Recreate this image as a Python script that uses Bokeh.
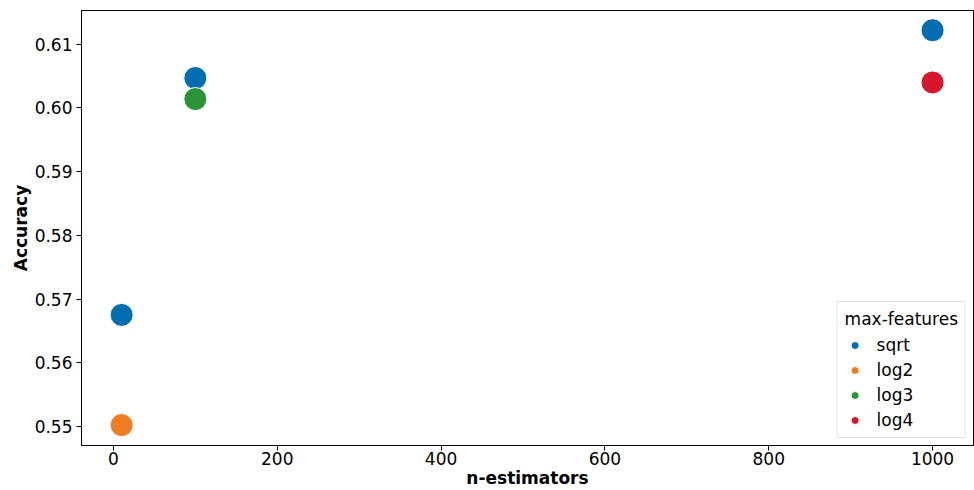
from bokeh.plotting import figure
from bokeh.models import (ColumnDataSource, CDSView, GroupFilter, Legend, LegendItem,
                          FixedTicker, NumeralTickFormatter, Range1d)
from bokeh.embed import file_html
from bokeh.resources import INLINE

# Data
n_estimators = [10, 10, 100, 100, 1000, 1000]
accuracy = [0.5675, 0.5502, 0.6047, 0.6014, 0.6122, 0.6040]
max_features = ["sqrt", "log2", "sqrt", "log3", "sqrt", "log4"]

groups = ["sqrt", "log2", "log3", "log4"]
colors = ["#006db1", "#ee7d24", "#2a9338", "#d7152b"]

x_ticks = [0, 200, 400, 600, 800, 1000]
y_ticks = [0.55, 0.56, 0.57, 0.58, 0.59, 0.60, 0.61]

source = ColumnDataSource(dict(x=n_estimators, y=accuracy, g=max_features))

p = figure(width=974, height=490, output_backend="svg", toolbar_location=None,
           x_range=Range1d(-39, 1050), y_range=Range1d(0.5470, 0.6153),
           min_border_left=81, min_border_top=10, min_border_right=1, min_border_bottom=45)

FONT = "DejaVu Sans"
p.xgrid.visible = False
p.ygrid.visible = False
p.outline_line_color = "black"
p.outline_line_width = 1
p.outline_line_alpha = 1

items = []
for g, c in zip(groups, colors):
    view = CDSView(filter=GroupFilter(column_name="g", group=g))
    r = p.scatter("x", "y", source=source, view=view, size=23, fill_color=c,
                  line_color="white", line_width=1)
    items.append(LegendItem(label=g, renderers=[r]))

for ax in (p.xaxis[0], p.yaxis[0]):
    ax.major_label_text_font = FONT
    ax.major_label_text_font_size = "17px"
    ax.major_label_text_color = "black"
    ax.axis_label_text_font = FONT
    ax.axis_label_text_font_size = "17px"
    ax.axis_label_text_font_style = "bold"
    ax.axis_label_text_color = "black"
    ax.minor_tick_line_color = None
    ax.major_tick_out = 5
    ax.major_tick_in = 0
    ax.axis_line_color = "black"
    ax.major_tick_line_color = "black"

p.yaxis.axis_label_standoff = 1
p.yaxis.major_label_standoff = 4
p.xaxis.axis_label_standoff = 0
p.xaxis.major_label_standoff = 1

p.xaxis.axis_label = "n-estimators"
p.yaxis.axis_label = "Accuracy"
p.xaxis.ticker = FixedTicker(ticks=x_ticks)
p.yaxis.ticker = FixedTicker(ticks=y_ticks)
p.yaxis.formatter = NumeralTickFormatter(format="0.00")

legend = Legend(items=items, location="bottom_right", title="max-features",
                title_text_font=FONT, title_text_font_size="17px", title_text_font_style="normal",
                title_text_color="black",
                label_text_font=FONT, label_text_font_size="17px", label_text_color="black",
                border_line_color="#cccccc", border_line_width=1, background_fill_alpha=0.9,
                glyph_height=20, glyph_width=20, label_height=20, spacing=5, padding=7,
                margin=7, title_standoff=6, label_standoff=12)
p.add_layout(legend)

open("out.html", "w").write(file_html(p, INLINE))
